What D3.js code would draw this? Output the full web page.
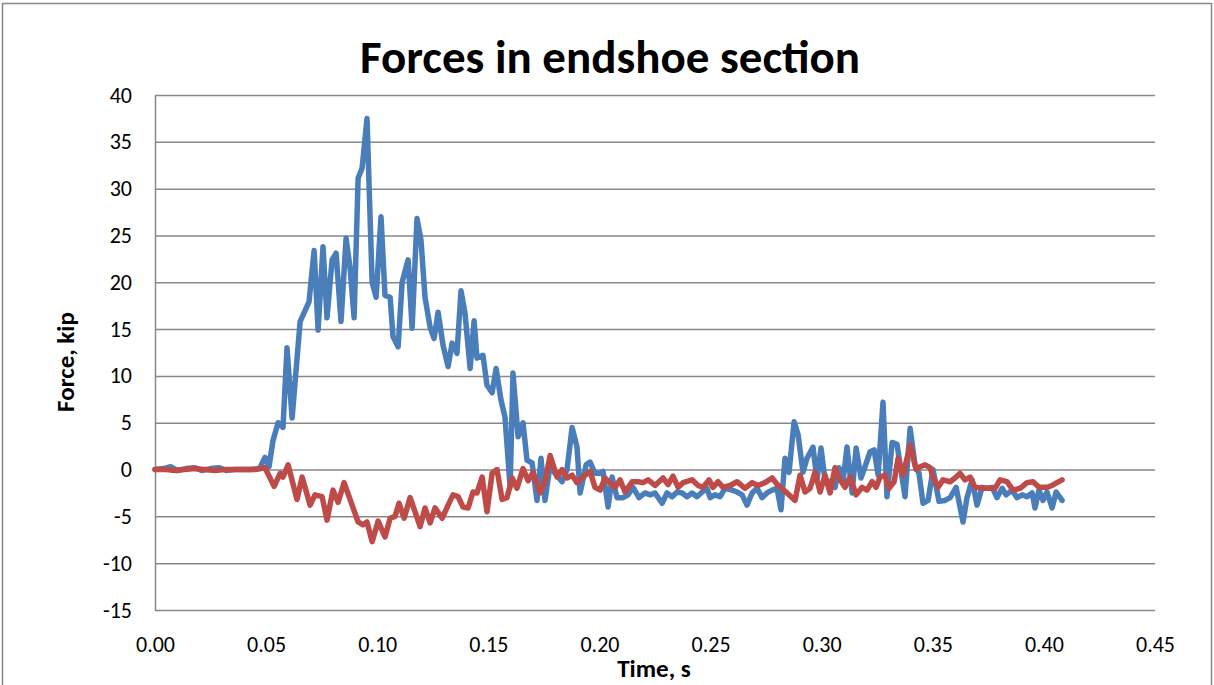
<!DOCTYPE html>
<html>
<head>
<meta charset="utf-8">
<script src="https://cdn.jsdelivr.net/npm/d3@7"></script>
<style>
  body { margin: 0; background: #fff; }
  svg { display: block; }
  text { font-family: Carlito, Calibri, Lato, "Open Sans", sans-serif; fill: #000; }
</style>
</head>
<body>
<div id="chart"></div>
<script>
// chart values: [time (s), force (kip)]
var series1 = [
  [0.000, 0], [0.004, 0.1], [0.007, 0.3], [0.010, -0.1], [0.014, 0.1], [0.018, 0.2], [0.021, -0.1],
  [0.025, 0.1], [0.029, 0.2], [0.032, -0.1], [0.036, 0], [0.040, 0], [0.043, 0], [0.047, 0.1],
  [0.0495, 1.3], [0.0513, 0.3], [0.0531, 3.1], [0.0554, 5.0], [0.0576, 4.5], [0.0594, 13.0],
  [0.0617, 5.5], [0.0653, 15.8], [0.0693, 17.9], [0.0716, 23.4], [0.0734, 14.9], [0.0756, 23.8],
  [0.0774, 16.2], [0.0797, 22.4], [0.0815, 23.1], [0.0837, 15.8], [0.0860, 24.7], [0.0878, 21.5],
  [0.0896, 16.2], [0.0914, 31.1], [0.0932, 32.2], [0.0954, 37.5], [0.0977, 20.0], [0.0995, 18.4],
  [0.1017, 27.0], [0.1035, 18.6], [0.1058, 18.4], [0.1071, 14.2], [0.1094, 13.1], [0.1112, 20.0],
  [0.1139, 22.4], [0.1157, 15.1], [0.1179, 26.8], [0.1197, 24.5], [0.1215, 18.4], [0.1238, 15.2],
  [0.1256, 14.0], [0.1274, 16.8], [0.1296, 13.3], [0.1319, 11.0], [0.1337, 13.5], [0.1359, 12.4],
  [0.1377, 19.1], [0.1395, 16.7], [0.1418, 10.8], [0.1436, 15.9], [0.1449, 11.9], [0.1476, 12.2],
  [0.1494, 9.0], [0.1517, 8.2], [0.1535, 10.8], [0.1557, 7.4], [0.1575, 5.6], [0.1598, -1.9],
  [0.1611, 10.3], [0.1634, 3.5], [0.1656, 5.0], [0.1674, 1.0], [0.1697, 0.7], [0.1719, -3.3],
  [0.1737, 1.2], [0.1755, -3.3], [0.1778, 0.5], [0.1800, -0.4], [0.1832, -1.3], [0.1854, 0],
  [0.1877, 4.5], [0.1899, 2.4], [0.1913, -2.5], [0.1940, 0.5], [0.1958, 0.8], [0.1980, -0.4],
  [0.2003, -0.4], [0.2016, -0.2], [0.2039, -4.0], [0.2057, -0.8], [0.2079, -3.0], [0.2106, -3.0],
  [0.2129, -2.7], [0.2151, -1.9], [0.2178, -3.0], [0.2205, -2.5], [0.2228, -2.7], [0.2250, -2.5],
  [0.2282, -3.6], [0.2304, -2.5], [0.2327, -2.9], [0.2349, -2.4], [0.2372, -2.5], [0.2394, -2.9],
  [0.2417, -2.5], [0.2439, -2.9], [0.2462, -2.4], [0.2484, -2.0], [0.2498, -3.0], [0.2520, -2.7],
  [0.2543, -2.9], [0.2565, -2.0], [0.2597, -2.2], [0.2619, -2.4], [0.2642, -2.7], [0.2664, -3.8],
  [0.2687, -2.5], [0.2709, -2.0], [0.2732, -3.0], [0.2754, -2.5], [0.2777, -2.2], [0.2799, -2.0],
  [0.2817, -4.3], [0.2835, 1.2], [0.2853, -0.3], [0.2876, 5.1], [0.2894, 3.7], [0.2916, -0.3],
  [0.2934, 1.2], [0.2961, 2.4], [0.2979, -1.1], [0.2997, 2.3], [0.3015, -1.1], [0.3038, -1.3],
  [0.3060, -1.9], [0.3078, 0.2], [0.3096, -1.3], [0.3114, 2.4], [0.3137, -2.5], [0.3155, 2.3],
  [0.3177, -0.9], [0.3195, 0.3], [0.3218, 1.9], [0.3236, 2.1], [0.3254, -0.6], [0.3276, 7.2],
  [0.3294, -2.9], [0.3317, 2.9], [0.3339, 2.7], [0.3375, -2.9], [0.3398, 4.4], [0.3420, 0.5],
  [0.3438, -0.4], [0.3456, -3.6], [0.3479, -3.3], [0.3501, 0], [0.3528, -3.4], [0.3555, -3.3],
  [0.3578, -3.0], [0.3605, -1.9], [0.3636, -5.6], [0.3654, -3.0], [0.3677, -1.1], [0.3699, -3.8],
  [0.3722, -1.9], [0.3744, -2.0], [0.3767, -1.9], [0.3789, -3.0], [0.3812, -2.0], [0.3830, -2.7],
  [0.3857, -2.2], [0.3879, -3.0], [0.3902, -2.7], [0.3924, -2.9], [0.3947, -2.5], [0.3960, -4.1],
  [0.3978, -2.2], [0.3996, -3.3], [0.4014, -2.4], [0.4037, -4.1], [0.4055, -2.4], [0.4082, -3.3]
];

var series2 = [
  [0.000, 0], [0.005, 0], [0.009, -0.1], [0.013, 0], [0.018, 0.1], [0.022, 0], [0.027, -0.1],
  [0.031, 0], [0.036, 0], [0.040, 0], [0.045, 0],
  [0.0495, 0.2], [0.0536, -1.8], [0.0563, -0.4], [0.0576, -0.8], [0.0599, 0.5], [0.0639, -3.2],
  [0.0662, -0.8], [0.0698, -3.8], [0.0720, -2.7], [0.0752, -2.9], [0.0774, -5.4], [0.0801, -2.2],
  [0.0824, -3.5], [0.0851, -1.4], [0.0887, -3.8], [0.0914, -5.6], [0.0936, -5.9], [0.0954, -5.6],
  [0.0977, -7.7], [0.1004, -5.5], [0.1035, -7.2], [0.1058, -5.2], [0.1080, -5.0], [0.1098, -3.6],
  [0.1121, -5.2], [0.1148, -3.0], [0.1170, -4.5], [0.1193, -6.1], [0.1215, -4.1], [0.1238, -5.7],
  [0.1260, -4.1], [0.1292, -5.2], [0.1319, -3.8], [0.1341, -2.7], [0.1364, -2.9], [0.1386, -4.0],
  [0.1409, -4.1], [0.1431, -2.4], [0.1449, -2.5], [0.1472, -0.8], [0.1494, -4.5], [0.1517, -0.4],
  [0.1539, 0], [0.1562, -3.2], [0.1584, -3.0], [0.1607, -0.9], [0.1629, -2.0], [0.1656, 0.1],
  [0.1679, -1.2], [0.1701, -0.3], [0.1733, -2.5], [0.1755, -1.3], [0.1778, 1.5], [0.1809, -0.8],
  [0.1832, 0], [0.1854, -0.9], [0.1877, -0.6], [0.1899, -1.4], [0.1926, -0.8], [0.1958, -0.2],
  [0.1980, -1.9], [0.2003, -2.2], [0.2025, -0.9], [0.2048, -1.4], [0.2070, -1.9], [0.2093, -1.1],
  [0.2115, -2.4], [0.2147, -1.3], [0.2174, -1.3], [0.2196, -1.4], [0.2219, -1.1], [0.2250, -1.7],
  [0.2286, -0.9], [0.2309, -1.6], [0.2331, -0.7], [0.2354, -1.9], [0.2376, -1.4], [0.2417, -1.1],
  [0.2444, -1.7], [0.2466, -1.9], [0.2493, -1.1], [0.2511, -1.9], [0.2534, -1.3], [0.2556, -1.9],
  [0.2588, -1.7], [0.2619, -1.3], [0.2655, -2.0], [0.2687, -1.4], [0.2714, -1.7], [0.2745, -1.4],
  [0.2777, -0.9], [0.2804, -1.7], [0.2844, -2.5], [0.2880, -3.3], [0.2903, -0.6], [0.2925, -2.4],
  [0.2948, -2.0], [0.2970, -0.3], [0.2993, -2.4], [0.3015, -0.6], [0.3038, -2.5], [0.3060, 0.2],
  [0.3083, -1.1], [0.3105, -1.9], [0.3128, -0.8], [0.3155, -2.7], [0.3182, -1.9], [0.3204, -2.2],
  [0.3227, -1.3], [0.3245, -1.9], [0.3263, -0.8], [0.3285, -0.6], [0.3303, -2.0], [0.3326, -1.3],
  [0.3344, 1.2], [0.3366, -0.6], [0.3398, 2.6], [0.3425, 0], [0.3443, 0.3], [0.3465, 0.5],
  [0.3488, 0.2], [0.3501, -0.8], [0.3524, -1.9], [0.3546, -1.1], [0.3578, -1.3], [0.3600, -0.9],
  [0.3623, -0.4], [0.3645, -1.1], [0.3668, -0.8], [0.3690, -1.9], [0.3722, -2.0], [0.3749, -2.0],
  [0.3780, -2.0], [0.3803, -1.1], [0.3834, -1.3], [0.3861, -2.2], [0.3893, -2.0], [0.3924, -1.4],
  [0.3951, -1.3], [0.3978, -1.9], [0.4014, -1.9], [0.4037, -1.7], [0.4059, -1.4], [0.4082, -1.1]
];

var xTicks = [0, 0.05, 0.10, 0.15, 0.20, 0.25, 0.30, 0.35, 0.40, 0.45];
var yTicks = [-15, -10, -5, 0, 5, 10, 15, 20, 25, 30, 35, 40];
var titleText = 'Forces in endshoe section';
var xTitle = 'Time, s';
var yTitle = 'Force, kip';

var W = 1214, H = 685;
var margin = { top: 95, right: 59, bottom: 75, left: 155 },
  width = W - margin.left - margin.right,
  height = H - margin.top - margin.bottom;

var svg = d3.select('#chart').append('svg')
  .attr('width', W)
  .attr('height', H);

// chart area frame
svg.append('rect')
  .attr('x', 2.5).attr('y', 3.5)
  .attr('width', W - 5).attr('height', H)
  .attr('fill', 'none')
  .attr('stroke', '#868686')
  .attr('stroke-width', 1.5);

var g = svg.append('g')
  .attr('transform', 'translate(' + margin.left + ',' + margin.top + ')');

var x = d3.scaleLinear().domain([0, 0.45]).range([0, width]);
var y = d3.scaleLinear().domain([-15, 40]).range([height, 0]);

// horizontal gridlines
g.append('g')
  .call(d3.axisLeft(y).tickValues(yTicks).tickSize(-width).tickFormat(''))
  .call(function(a) {
    a.select('.domain').remove();
    a.selectAll('line').attr('stroke', '#878787').attr('stroke-width', 1.5);
  });

// y axis line + labels (plain hyphen for negatives, like the original)
g.append('g')
  .call(d3.axisLeft(y).tickValues(yTicks).tickSize(0).tickPadding(23)
    .tickFormat(function(d) { return String(d); }))
  .call(function(a) {
    a.select('.domain').attr('stroke', '#878787').attr('stroke-width', 1.5);
    a.selectAll('text')
      .style('font-family', 'Carlito, Calibri, Lato, sans-serif')
      .style('font-size', '22px');
  });

// x axis labels
g.append('g')
  .attr('transform', 'translate(0,' + height + ')')
  .call(d3.axisBottom(x).tickValues(xTicks).tickSize(0).tickPadding(26).tickFormat(d3.format('.2f')))
  .call(function(a) {
    a.select('.domain').remove();
    a.selectAll('text')
      .style('font-family', 'Carlito, Calibri, Lato, sans-serif')
      .style('font-size', '22px');
  });

var line = d3.line()
  .x(function(d) { return x(d[0]); })
  .y(function(d) { return y(d[1]); });

g.append('path')
  .datum(series1)
  .attr('d', line)
  .attr('fill', 'none')
  .attr('stroke', '#4A7EBB')
  .attr('stroke-width', 5.5)
  .attr('stroke-linejoin', 'round')
  .attr('stroke-linecap', 'round');

g.append('path')
  .datum(series2)
  .attr('d', line)
  .attr('fill', 'none')
  .attr('stroke', '#BE4B48')
  .attr('stroke-width', 5.5)
  .attr('stroke-linejoin', 'round')
  .attr('stroke-linecap', 'round');

// titles
svg.append('text')
  .attr('x', 610).attr('y', 73)
  .attr('text-anchor', 'middle')
  .style('font-size', '47px')
  .style('font-weight', 'bold')
  .text(titleText);

svg.append('text')
  .attr('x', 654).attr('y', 677)
  .attr('text-anchor', 'middle')
  .style('font-size', '25px')
  .style('font-weight', 'bold')
  .text(xTitle);

svg.append('text')
  .attr('transform', 'translate(74,362) rotate(-90)')
  .attr('text-anchor', 'middle')
  .style('font-size', '25px')
  .style('font-weight', 'bold')
  .text(yTitle);
</script>
</body>
</html>
